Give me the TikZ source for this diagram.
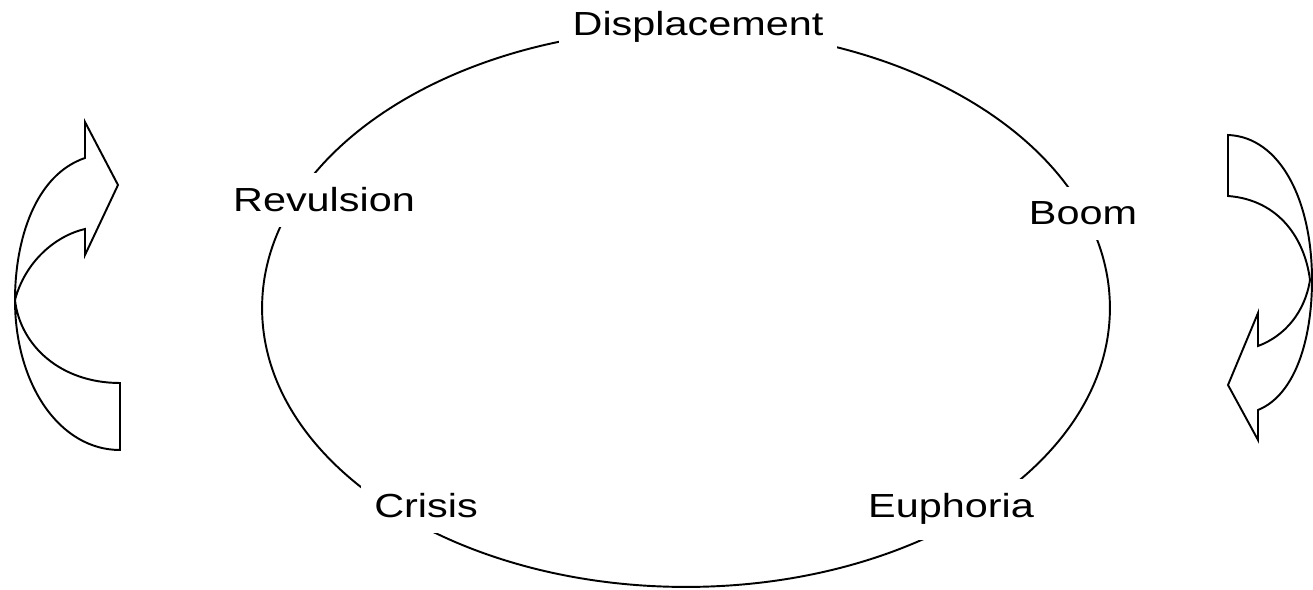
\documentclass[tikz,border=0pt]{standalone}
\usepackage{fontspec}
\setmainfont{Liberation Sans}
\usetikzlibrary{shapes.geometric}
\begin{document}
\begin{tikzpicture}[
      x=0.02cm, y=-0.02cm,
      line width=1.1pt,
      stage/.style={fill=white, anchor=base, xscale=1.24, inner xsep=0.22cm, inner ysep=0.3cm,
        font=\fontsize{19}{23}\selectfont},
      ring/.style={draw, ellipse, inner sep=0pt, minimum width=16.96cm, minimum height=11.16cm},
      turn/.style={draw, fill=white, line join=miter}
    ]
      \useasboundingbox (0,0) rectangle (1313,590);
      \node[ring] (cycle) at (686,308) {};
      \node[stage] (disp) at (698,36) {Displacement};
      \node[stage] (boom) at (1083,225) {Boom};
      \node[stage] (euph) at (951,518) {Euphoria};
      \node[stage] (crisis) at (426,518) {Crisis};
      \node[stage] (rev) at (324,212) {Revulsion};
      \path[turn] (120,450) -- (120,383) .. controls (60,383) and (20,345) .. (15,300)
        .. controls (25,262) and (55,236) .. (85,229) -- (85,255) -- (118,185) -- (85,122)
        -- (85,158) .. controls (35,175) and (15,240) .. (15,300)
        .. controls (15,385) and (60,450) .. (120,450) -- cycle;
      \path[turn] (1228,135) -- (1228,196) .. controls (1280,200) and (1305,240) .. (1310,280)
        .. controls (1305,312) and (1285,336) .. (1258,346) -- (1258,313) -- (1228,385)
        -- (1258,440) -- (1258,410) .. controls (1295,395) and (1312,340) .. (1312,280)
        .. controls (1312,200) and (1280,137) .. (1228,135) -- cycle;
\end{tikzpicture}
\end{document}
